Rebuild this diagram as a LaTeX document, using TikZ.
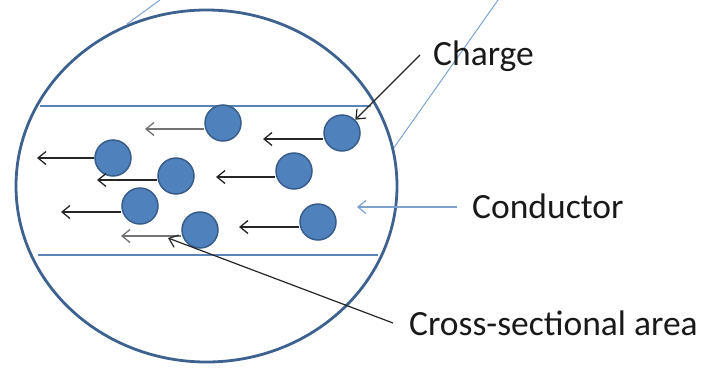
\documentclass[tikz,border=0pt]{standalone}
\usepackage{fontspec}
\setmainfont{Carlito}
\usetikzlibrary{arrows.meta}
\definecolor{ringcol}{HTML}{3E6290}
\definecolor{wallcol}{HTML}{5B84B6}
\definecolor{chargefill}{HTML}{4F81BD}
\definecolor{chargeline}{HTML}{385D8A}
\definecolor{pointcol}{HTML}{7EA2CF}
\tikzset{
  charge/.style={circle,fill=chargefill,draw=chargeline,line width=1.5pt,minimum size=36pt,inner sep=0pt},
  drift/.style={draw=black!85,line width=1.3pt,-{Straight Barb[length=8pt,width=13pt,line width=1.3pt]}},
  faint/.style={draw=black!55},
  label/.style={font=\fontsize{35.5}{42}\selectfont,inner sep=0pt,anchor=base west,text=black!90},
  pointer/.style={draw=black!85,line width=1.2pt,-{Straight Barb[length=8pt,width=13pt,line width=1.2pt]}}
}
\begin{document}
\begin{tikzpicture}[x=1pt,y=-1pt]
\useasboundingbox (0,0) rectangle (703,367);
% wire outline lines
\draw[pointcol,line width=1pt] (160,0) -- (127,24);
\draw[pointcol,line width=1pt] (498,0) -- (393,149);
% conductor walls
\draw[wallcol,line width=1.5pt] (40,106) -- (371,106);
\draw[wallcol,line width=1.5pt] (38,255) -- (378,255);
% magnifier ring
\draw[ringcol,line width=2.8pt] (206.5,186) ellipse [x radius=190.5, y radius=176];
% charges
\node[charge] (c1) at (223,123) {};
\node[charge] (c2) at (342,133) {};
\node[charge] (c3) at (113,158) {};
\node[charge] (c4) at (176,176) {};
\node[charge] (c5) at (294,171) {};
\node[charge] (c6) at (140,206) {};
\node[charge] (c7) at (200,230) {};
\node[charge] (c8) at (318,222) {};
\coordinate (e1) at (145,129);
\coordinate (e2) at (263,139);
\coordinate (e3) at (37,158);
\coordinate (e4) at (97,180);
\coordinate (e5) at (216,177);
\coordinate (e6) at (61,212);
\coordinate (e7) at (121,236);
\coordinate (e8) at (239,227);
\draw[drift,faint] (c1.west |- e1) -- (e1);
\draw[drift] (c2.west |- e2) -- (e2);
\draw[drift] (c3.west) -- (e3);
\draw[drift] (c4.west |- e4) -- (e4);
\draw[drift] (c5.west |- e5) -- (e5);
\draw[drift] (c6.west |- e6) -- (e6);
\draw[drift,faint] (c7.west |- e7) -- (e7);
\draw[drift] (c8.west |- e8) -- (e8);
% labels
\node[label] (lcharge) at (433,65) {Charge};
\node[label] (lcond) at (472,218) {Conductor};
\node[label] (larea) at (409,335) {Cross-sectional area};
\coordinate (pc) at (420,55);
\coordinate (pd) at (457,207);
\coordinate (pdend) at (357,207);
\coordinate (pa) at (393,323);
\coordinate (paend) at (168,238);
\draw[pointer] (pc) -- (c2.north east);
\draw[pointcol,line width=1.2pt,-{Straight Barb[length=8pt,width=13pt,line width=1.2pt]}] (pd) -- (pdend);
\draw[pointer] (pa) -- (paend);
\end{tikzpicture}
\end{document}
